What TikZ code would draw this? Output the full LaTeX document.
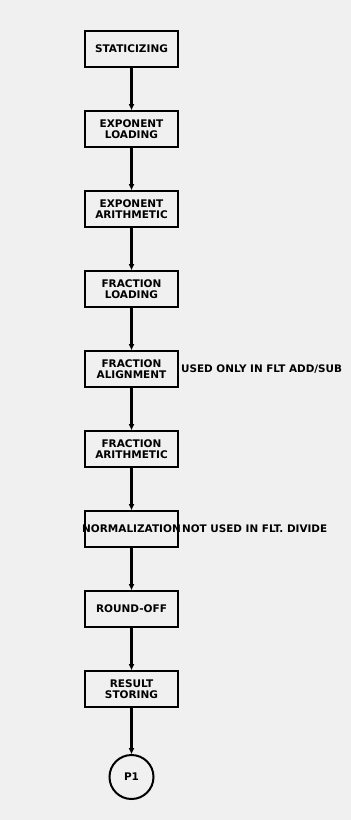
\documentclass[tikz,border=0pt]{standalone}
\usepackage{fontspec}
\setsansfont{DejaVu Sans}
\usetikzlibrary{positioning,arrows.meta}

\begin{document}
\begin{tikzpicture}[x=1pt, y=1pt, node distance=42pt,
                    font=\sffamily\bfseries\fontsize{10.5}{11.5}\selectfont,
                    stage/.style={draw, line width=2pt, minimum width=93pt,
                                  minimum height=36pt, inner xsep=0pt, align=center},
                    flow/.style={line width=2.2pt, -{Triangle[length=6pt,width=5pt]}},
                    note/.style={inner sep=0pt, font=\sffamily\bfseries\fontsize{10.4}{12}\selectfont}]
  \useasboundingbox (0,0) rectangle (351,-820);
  \fill[black!6] (0,0) rectangle (351,-820);
  % stages of the floating point operation
  \node[stage] (statz) at (131.5,-49) {STATICIZING};
  \node[stage, below=of statz] (expload) {EXPONENT\\LOADING};
  \node[stage, below=of expload] (exparith) {EXPONENT\\ARITHMETIC};
  \node[stage, below=of exparith] (fracload) {FRACTION\\LOADING};
  \node[stage, below=of fracload] (fracalign) {FRACTION\\ALIGNMENT};
  \node[stage, below=of fracalign] (fracarith) {FRACTION\\ARITHMETIC};
  \node[stage, below=of fracarith] (norm) {\makebox[90pt]{NORMALIZATION}};
  \node[stage, below=of norm] (round) {ROUND-OFF};
  \node[stage, below=of round] (store) {RESULT\\STORING};
  \node[draw, circle, line width=2pt, minimum size=44pt, inner sep=0pt,
        below=46pt of store] (p1) {P1};
  % remarks
  \node[note, right=2pt of fracalign] (addsub) {USED ONLY IN FLT ADD/SUB};
  \node[note, right=3pt of norm] (nodiv) {NOT USED IN FLT. DIVIDE};
  % connectors
  \foreach \a/\b in {statz/expload, expload/exparith, exparith/fracload,
                     fracload/fracalign, fracalign/fracarith, fracarith/norm,
                     norm/round, round/store, store/p1}
    \draw[flow] (\a) -- (\b);
\end{tikzpicture}
\end{document}
